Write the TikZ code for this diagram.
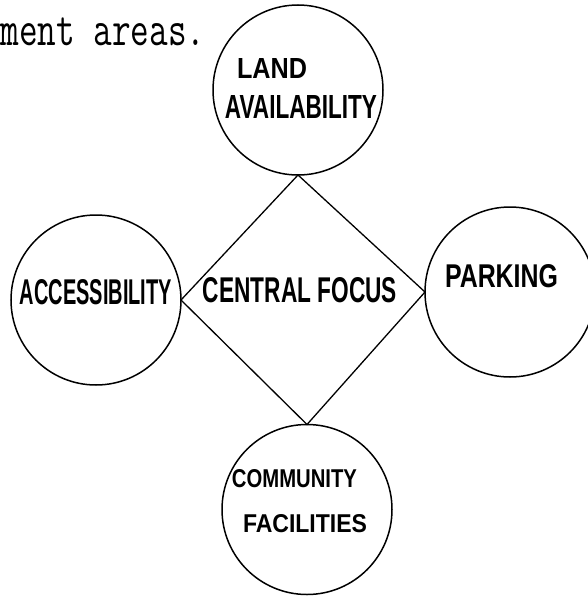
\documentclass[tikz,border=0pt]{standalone}
\usepackage{graphicx}
\usepackage{fontspec}
\newfontfamily\handfont{Liberation Sans}
\newcommand\hw[3]{\resizebox{#1}{#2}{\handfont\bfseries #3}}
\newcommand\typedtext[1]{\scalebox{1}[1.38]{\fontsize{36.19pt}{40pt}\selectfont\ttfamily\addfontfeatures{FakeBold=1.2}#1}}
\tikzset{
  bubble/.style={draw, circle, minimum size=170pt, inner sep=0pt, outer sep=0pt, line width=1.5pt},
  focusline/.style={line width=1.3pt, line join=miter},
  hand/.style={inner sep=0pt, outer sep=0pt},
  typed/.style={inner sep=0pt, outer sep=0pt, anchor=base west}
}
\begin{document}
\begin{tikzpicture}[x=1pt,y=-1pt]
\useasboundingbox (0,0) rectangle (587,597);
% typed text of the page
\node[typed] (prev) at (57,-15) {\typedtext{p}};
\node[typed] (typedline) at (0.5,45) {\typedtext{ment areas.}};
% circles
\node[bubble] (land) at (298,90) {};
\node[bubble] (acc) at (96,300) {};
\node[bubble] (park) at (510,292) {};
\node[bubble] (comm) at (307,509.5) {};
% central focus diamond
\draw[focusline] (land.south) -- (park.west) -- (comm.north) -- (acc.east) -- cycle;
% labels
\node[hand] (landt) at (272,68) {\hw{70pt}{20pt}{LAND}};
\node[hand] (availt) at (301,106.5) {\hw{152pt}{23pt}{AVAILABILITY}};
\node[hand] (acct) at (96,292.5) {\hw{152pt}{25pt}{ACCESSIBILITY}};
\node[hand] (cft) at (300,290.5) {\hw{194pt}{25pt}{CENTRAL FOCUS}};
\node[hand] (parkt) at (501.5,276.5) {\hw{113pt}{23pt}{PARKING}};
\node[hand] (commt) at (294.5,479) {\hw{125pt}{18pt}{COMMUNITY}};
\node[hand] (facit) at (305,524) {\hw{124pt}{18pt}{FACILITIES}};
\end{tikzpicture}
\end{document}
